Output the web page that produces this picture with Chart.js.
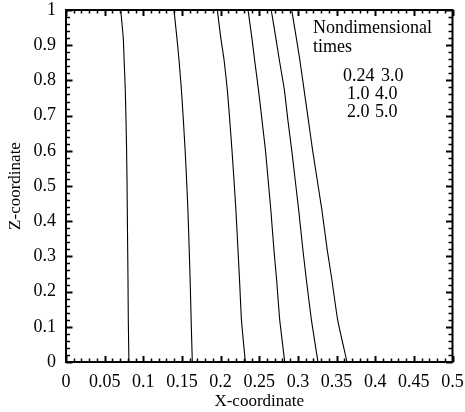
<!DOCTYPE html>
<html>
<head>
<meta charset="utf-8">
<script src="https://cdn.jsdelivr.net/npm/chart.js@4"></script>
<style>
  html, body { margin: 0; padding: 0; background: #fff; }
  #wrap { width: 465px; height: 412px; }
</style>
</head>
<body>
<div id="wrap"><canvas id="c" width="465" height="412"></canvas></div>
<script>
// Z levels (shared by all curves)
const zLevels = [1.0, 0.92, 0.858, 0.773, 0.688, 0.602, 0.517, 0.432, 0.318, 0.233, 0.119, 0];
// X positions of each front at the given Z levels
const xT024 = [0.0708, 0.0741, 0.0752, 0.0767, 0.0776, 0.0784, 0.0789, 0.0793, 0.0798, 0.0802, 0.0806, 0.0814];
const xT1   = [0.1397, 0.1435, 0.1462, 0.1493, 0.1518, 0.1541, 0.1560, 0.1577, 0.1594, 0.1606, 0.1619, 0.1634];
const xT2   = [0.1958, 0.2003, 0.2045, 0.2087, 0.2118, 0.2147, 0.2173, 0.2198, 0.2225, 0.2245, 0.2270, 0.2320];
const xT3   = [0.2355, 0.2405, 0.2440, 0.2490, 0.2535, 0.2580, 0.2615, 0.2650, 0.2690, 0.2725, 0.2765, 0.2830];
const xT4   = [0.2655, 0.2715, 0.2760, 0.2825, 0.2870, 0.2920, 0.2965, 0.3010, 0.3065, 0.3110, 0.3175, 0.3260];
const xT5   = [0.2920, 0.2980, 0.3025, 0.3080, 0.3135, 0.3190, 0.3250, 0.3310, 0.3380, 0.3440, 0.3515, 0.3635];
const timeLabels = ["0.24", "1.0", "2.0", "3.0", "4.0", "5.0"];
const legendTitle = ["Nondimensional", "times"];
const xTickStep = 0.05, yTickStep = 0.1;
const xLabel = "X-coordinate", yLabel = "Z-coordinate";

const series = [xT024, xT1, xT2, xT3, xT4, xT5];
const FONT = "'Liberation Serif', 'Times New Roman', serif";

const datasets = series.map((xs, i) => ({
  label: timeLabels[i],
  data: xs.map((x, j) => ({ x: x, y: zLevels[j] })),
  showLine: true,
  borderColor: '#000',
  borderWidth: 1.1,
  pointRadius: 0,
  tension: 0.15,
  fill: false
}));

const fmt = v => String(+Number(v).toFixed(2));

const framePlugin = {
  id: 'frame',
  afterDraw(chart) {
    const { ctx, chartArea: a, scales } = chart;
    const xs = scales.x, ys = scales.y;
    ctx.save();
    ctx.strokeStyle = '#000';
    // minor / major ticks, inward on all four sides
    for (let i = 0; i <= 50; i++) {
      const px = Math.round(xs.getPixelForValue(i * 0.01)) + 0.5;
      const major = i % 5 === 0;
      const len = major ? 6 : 3.5;
      ctx.lineWidth = major ? 2 : 1.5;
      ctx.beginPath();
      ctx.moveTo(px, a.bottom); ctx.lineTo(px, a.bottom - len);
      ctx.moveTo(px, a.top); ctx.lineTo(px, a.top + len);
      ctx.stroke();
    }
    for (let i = 0; i <= 50; i++) {
      const py = Math.round(ys.getPixelForValue(i * 0.02)) + 0.5;
      const major = i % 5 === 0;
      const len = major ? 6.5 : 4;
      ctx.lineWidth = major ? 2 : 1.5;
      ctx.beginPath();
      ctx.moveTo(a.left, py); ctx.lineTo(a.left + len, py);
      ctx.moveTo(a.right, py); ctx.lineTo(a.right - len, py);
      ctx.stroke();
    }
    ctx.lineWidth = 2;
    ctx.strokeRect(a.left, a.top, a.right - a.left, a.bottom - a.top);

    // in-plot legend text
    ctx.fillStyle = '#000';
    ctx.font = "18px " + FONT;
    ctx.textBaseline = 'alphabetic';
    ctx.textAlign = 'left';
    const lx = a.left + 247;
    ctx.fillText(legendTitle[0], lx, a.top + 23);
    ctx.fillText(legendTitle[1], lx, a.top + 42);
    ctx.fillText(timeLabels[0], a.left + 277, a.top + 71);
    ctx.fillText(timeLabels[3], a.left + 315, a.top + 71);
    ctx.fillText(timeLabels[1], a.left + 281, a.top + 89);
    ctx.fillText(timeLabels[4], a.left + 309, a.top + 89);
    ctx.fillText(timeLabels[2], a.left + 281, a.top + 107);
    ctx.fillText(timeLabels[5], a.left + 309, a.top + 107);
    ctx.restore();
  }
};

new Chart(document.getElementById('c'), {
  type: 'scatter',
  data: { datasets },
  options: {
    responsive: false,
    animation: false,
    events: [],
    layout: { padding: 0 },
    plugins: { legend: { display: false }, tooltip: { enabled: false } },
    scales: {
      x: {
        type: 'linear', min: 0, max: 0.5,
        grid: { display: false, drawTicks: false },
        border: { display: false },
        afterFit(s) { s.height = 50; s.paddingRight = 12.5; s.paddingLeft = 0; },
        ticks: {
          stepSize: xTickStep, autoSkip: false, maxRotation: 0, padding: 9,
          color: '#000', font: { family: FONT, size: 18 }, callback: fmt
        },
        title: { display: true, text: xLabel, color: '#000', padding: { top: 0, bottom: 0 },
                 font: { family: FONT, size: 17 } }
      },
      y: {
        type: 'linear', min: 0, max: 1,
        grid: { display: false, drawTicks: false },
        border: { display: false },
        afterFit(s) { s.width = 66; s.paddingTop = 10; s.paddingBottom = 0; },
        ticks: {
          stepSize: yTickStep, autoSkip: false, padding: 10,
          color: '#000', font: { family: FONT, size: 18 }, callback: fmt
        },
        title: { display: true, text: yLabel, color: '#000', padding: { top: 5, bottom: 0 },
                 font: { family: FONT, size: 17 } }
      }
    }
  },
  plugins: [framePlugin]
});
</script>
</body>
</html>
